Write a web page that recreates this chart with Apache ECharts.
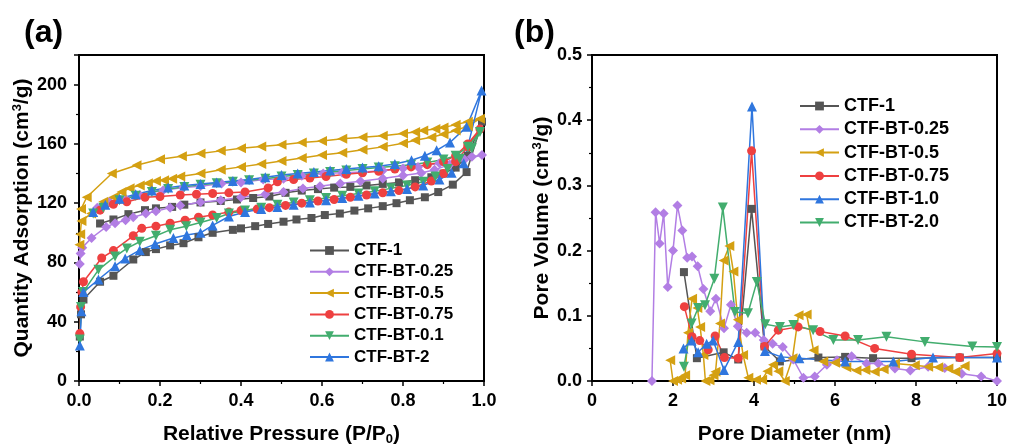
<!DOCTYPE html>
<html><head><meta charset="utf-8">
<script src="https://cdn.jsdelivr.net/npm/echarts@6/dist/echarts.min.js"></script>
<style>html,body{margin:0;padding:0;background:#fff}#c{width:1010px;height:447px}</style>
</head><body><div id="c"></div><script>
// ---------- Panel (a): N2 isotherms [P/P0, cm3/g] (adsorption then desorption) ----------
const isoCTF1 = [[0.002,30],[0.005,45],[0.011,55],[0.052,67],[0.085,71],[0.134,82],[0.165,87],[0.19,89],[0.225,91.5],[0.258,93],[0.295,97],[0.33,100],[0.38,102],[0.4,103],[0.435,104.5],[0.467,106],[0.505,107.5],[0.537,109],[0.574,110],[0.607,112],[0.644,113],[0.68,115],[0.714,116.5],[0.75,118],[0.784,120],[0.817,122],[0.854,124],[0.887,127.5],[0.923,132.5],[0.957,141],[0.995,175],
  [0.96,152],[0.93,144],[0.9,140],[0.87,137.5],[0.83,135.5],[0.79,134],[0.75,133],[0.71,132],[0.67,131],[0.63,130.5],[0.59,129.5],[0.55,128.5],[0.51,127],[0.47,124.5],[0.43,123.5],[0.39,122.5],[0.35,121.5],[0.3,120.5],[0.26,119],[0.23,117.5],[0.19,116.5],[0.163,115.3],[0.122,112.6],[0.085,109],[0.052,106.3]];
const isoBT025 = [[0.002,79],[0.004,86],[0.008,90],[0.031,96.5],[0.067,104],[0.089,106.5],[0.115,108.5],[0.134,110.5],[0.165,113],[0.19,114.6],[0.225,117],[0.25,118.5],[0.3,120.7],[0.35,122],[0.4,124],[0.46,126],[0.505,127.5],[0.553,129.9],[0.595,131.5],[0.645,133.3],[0.695,134.8],[0.75,136.6],[0.8,138.7],[0.845,140.3],[0.878,142.5],[0.915,146],[0.952,149.5],[0.995,152.5],
  [0.97,151.4],[0.93,149],[0.89,147],[0.837,144.5],[0.8,143.4],[0.75,142],[0.702,141],[0.65,140.5],[0.603,140],[0.55,138.5],[0.505,136.5],[0.455,136],[0.4,134],[0.352,133.2],[0.3,131.5],[0.258,130.5],[0.208,128.7],[0.15,125.5],[0.115,123],[0.075,120.9],[0.045,117]];
const isoBT05 = [[0.001,92],[0.003,99],[0.006,108],[0.03,113],[0.06,121],[0.085,124],[0.105,127.5],[0.125,130],[0.15,132],[0.17,133.5],[0.19,135],[0.21,135.5],[0.23,136.5],[0.25,138],[0.3,140],[0.35,142.5],[0.4,144.5],[0.45,146.5],[0.5,148.5],[0.55,150.5],[0.6,152.5],[0.65,154],[0.7,156],[0.75,158],[0.8,160.5],[0.83,162.5],[0.87,164.5],[0.9,166.5],[0.93,169],[0.96,172],[0.99,177],
  [0.96,175],[0.93,173],[0.9,171],[0.88,170],[0.85,169],[0.83,168],[0.8,167],[0.75,165.5],[0.7,164.5],[0.65,163.5],[0.6,162],[0.55,161],[0.5,159.5],[0.45,158.3],[0.4,157],[0.35,155.3],[0.3,153.5],[0.254,151.7],[0.2,149.7],[0.142,145.6],[0.081,140],[0.019,124],[0.005,116]];
const isoBT075 = [[0.002,32],[0.004,50],[0.007,60],[0.011,67],[0.056,83],[0.085,88],[0.134,98],[0.155,103],[0.19,104.5],[0.225,106.5],[0.262,108.5],[0.295,110.5],[0.33,112],[0.37,114],[0.4,115],[0.44,116],[0.47,117],[0.51,118.5],[0.55,120],[0.59,121.5],[0.63,122.5],[0.67,124],[0.71,125.5],[0.75,127],[0.79,128.5],[0.83,131],[0.87,135],[0.9,140],[0.93,148],[0.96,158],[0.99,170],
  [0.96,160],[0.93,152],[0.9,148],[0.86,146],[0.82,144.5],[0.78,143],[0.74,141.5],[0.7,140.5],[0.66,139.5],[0.61,138],[0.57,137],[0.53,136],[0.49,134.5],[0.467,130.3],[0.41,127.6],[0.37,127],[0.33,126.5],[0.29,126],[0.25,125.5],[0.2,124.5],[0.163,124],[0.118,120.9],[0.085,119.3],[0.052,115.3]];
const isoBT01 = [[0.002,28],[0.005,50],[0.01,60],[0.048,75],[0.089,84],[0.118,89.5],[0.15,94],[0.19,98],[0.225,102],[0.265,104.5],[0.3,107],[0.34,110],[0.37,113],[0.41,115],[0.45,117],[0.49,119],[0.53,120.5],[0.57,122],[0.61,123.5],[0.65,125],[0.69,126.5],[0.73,128],[0.77,130],[0.81,132],[0.85,134.5],[0.88,138],[0.91,143],[0.94,150],[0.97,157],[0.99,168],
  [0.96,158],[0.93,152],[0.9,149.5],[0.86,147.5],[0.82,146],[0.78,145],[0.74,144],[0.7,143],[0.66,142],[0.62,141],[0.58,140],[0.54,139],[0.5,138],[0.46,136.5],[0.42,135.5],[0.38,134.5],[0.34,133.5],[0.3,132.5],[0.26,131],[0.22,129.5],[0.18,127.5],[0.14,125],[0.1,122],[0.06,117],[0.035,113]];
const isoBT2 = [[0.002,24],[0.006,47],[0.011,60],[0.048,68.5],[0.089,77.5],[0.114,82.7],[0.15,88.3],[0.188,92.4],[0.233,96.5],[0.266,98.5],[0.3,100],[0.33,105],[0.37,111],[0.41,114],[0.45,116],[0.49,117.5],[0.53,119],[0.57,120.5],[0.61,122],[0.65,123.5],[0.69,125],[0.73,126.5],[0.77,128],[0.81,129.5],[0.85,132],[0.89,136],[0.92,140.5],[0.95,147],[0.994,196],
  [0.957,171.5],[0.916,161],[0.883,155.7],[0.854,152],[0.821,149],[0.78,146.5],[0.74,145],[0.7,144],[0.66,143],[0.62,142],[0.58,141],[0.54,140],[0.5,139],[0.46,137.5],[0.42,136],[0.38,135],[0.34,134],[0.3,133],[0.26,132],[0.22,130.5],[0.18,128.5],[0.14,126],[0.1,123],[0.065,119],[0.035,114]];

// ---------- Panel (b): pore size distribution [nm, cm3/g] ----------
const psdCTF1 = [[2.27,0.167],[2.59,0.035],[3.25,0.044],[3.61,0.033],[3.94,0.264],[4.26,0.053],[4.64,0.03],[5.59,0.036],[6.25,0.037],[6.94,0.035],[7.89,0.035],[9.08,0.036],[10,0.036]];
const psdBT025 = [[1.48,0],[1.57,0.259],[1.67,0.211],[1.77,0.257],[1.87,0.144],[2.0,0.2],[2.11,0.269],[2.23,0.231],[2.35,0.189],[2.47,0.191],[2.61,0.176],[2.75,0.141],[2.92,0.107],[3.06,0.126],[3.26,0.081],[3.43,0.117],[3.6,0.084],[3.82,0.074],[4.03,0.074],[4.24,0.063],[4.46,0.057],[4.71,0.052],[4.97,0.033],[5.22,0.005],[5.5,0.007],[5.8,0.025],[6.05,0.032],[6.41,0.038],[6.78,0.027],[7.07,0.027],[7.48,0.019],[7.86,0.016],[8.3,0.022],[8.71,0.02],[9.13,0.011],[9.61,0.007],[10,0.0]];
const psdBT05 = [[1.93,0.032],[2.0,0.0],[2.1,0.002],[2.2,0.004],[2.3,0.009],[2.37,0.074],[2.47,0.126],[2.6,0.112],[2.67,0.083],[2.75,0.04],[2.8,0.0],[2.9,0.001],[3.0,0.009],[3.05,0.014],[3.16,0.088],[3.25,0.185],[3.39,0.207],[3.49,0.168],[3.6,0.094],[3.73,0.04],[3.86,0.005],[4.05,0.002],[4.2,0.002],[4.33,0.015],[4.47,0.025],[4.6,0.015],[4.76,0.0],[4.95,0.035],[5.1,0.101],[5.3,0.102],[5.47,0.047],[5.71,0.03],[6.0,0.028],[6.28,0.021],[6.53,0.016],[6.75,0.017],[6.98,0.014],[7.2,0.018],[7.48,0.027],[7.97,0.024],[8.3,0.022],[8.55,0.021],[8.8,0.019],[8.97,0.014],[9.2,0.023]];
const psdBT075 = [[2.28,0.114],[2.47,0.068],[2.66,0.062],[2.87,0.048],[3.04,0.069],[3.27,0.036],[3.61,0.035],[3.94,0.353],[4.26,0.053],[4.6,0.078],[5.09,0.083],[5.63,0.076],[6.25,0.069],[6.98,0.05],[7.89,0.041],[9.08,0.036],[10,0.042]];
const psdBT10 = [[2.26,0.05],[2.46,0.062],[2.62,0.044],[2.83,0.057],[2.99,0.062],[3.26,0.017],[3.61,0.06],[3.95,0.421],[4.27,0.046],[4.67,0.037],[5.12,0.035],[6.25,0.03],[7.44,0.03],[8.42,0.036],[10,0.036]];
const psdBT20 = [[2.27,0.022],[2.46,0.088],[2.62,0.112],[2.79,0.116],[3.02,0.157],[3.23,0.266],[3.53,0.106],[3.85,0.104],[4.07,0.152],[4.28,0.087],[4.64,0.083],[4.97,0.086],[5.46,0.078],[5.96,0.063],[6.57,0.063],[7.27,0.068],[8.22,0.06],[9.39,0.053],[10,0.052]];

const namesA = ['CTF-1','CTF-BT-0.25','CTF-BT-0.5','CTF-BT-0.75','CTF-BT-0.1','CTF-BT-2'];
const namesB = ['CTF-1','CTF-BT-0.25','CTF-BT-0.5','CTF-BT-0.75','CTF-BT-1.0','CTF-BT-2.0'];
const xTicksA = [0,0.2,0.4,0.6,0.8,1.0];
const yTicksA = [0,40,80,120,160,200];

const FF = '"Liberation Sans", Arial, sans-serif';
const C = {gray:'#555555', purple:'#b27ee4', gold:'#d4a012', red:'#ee4040', green:'#42ad6e', blue:'#2f76de'};

function mk(name, data, idx, color, symbol, rot, size){
  return {type:'line', name, data, xAxisIndex:idx, yAxisIndex:idx, symbol, symbolRotate:rot, symbolSize:size,
    clip:false, animation:false, itemStyle:{color}, lineStyle:{color, width:1.5}, emphasis:{disabled:true}};
}

function axisCommon(){
  return {
    axisLine:{show:true, onZero:false, lineStyle:{color:'#000', width:2}},
    axisTick:{show:true, inside:false, length:5, lineStyle:{color:'#000', width:1.5}},
    minorTick:{show:true, splitNumber:2, length:3, lineStyle:{color:'#000', width:1.2}},
    splitLine:{show:false},
    nameLocation:'middle'
  };
}
const lbl = {color:'#000', fontSize:18, fontWeight:'bold', fontFamily:FF};
const nameRich = {
  t:{fontSize:21, fontWeight:'bold', fontFamily:FF, color:'#000', lineHeight:24},
  s:{fontSize:13, fontWeight:'bold', fontFamily:FF, color:'#000', lineHeight:13, verticalAlign:'top'},
  b:{fontSize:13, fontWeight:'bold', fontFamily:FF, color:'#000', lineHeight:13, verticalAlign:'bottom'}
};

const option = {
  backgroundColor:'#fff',
  animation:false,
  title:[
    {text:'(a)', left:24, top:17, padding:0, textStyle:{fontSize:32, fontWeight:'bold', fontFamily:FF, color:'#000'}},
    {text:'(b)', left:514, top:17, padding:0, textStyle:{fontSize:32, fontWeight:'bold', fontFamily:FF, color:'#000'}}
  ],
  grid:[
    {left:79, width:405, top:55, height:326, show:true, borderColor:'#000', borderWidth:2, backgroundColor:'transparent', containLabel:false, outerBoundsMode:'none'},
    {left:592, width:405, top:55, height:326, show:true, borderColor:'#000', borderWidth:2, backgroundColor:'transparent', containLabel:false, outerBoundsMode:'none'}
  ],
  xAxis:[
    Object.assign(axisCommon(), {type:'value', gridIndex:0, min:xTicksA[0], max:xTicksA[xTicksA.length-1], interval:0.2,
      axisLabel:Object.assign({margin:11, formatter:v=>v.toFixed(1)}, lbl),
      name:'{t|Relative Pressure (P/P}{b|0}{t|)}', nameGap:41, nameTextStyle:{rich:nameRich}}),
    Object.assign(axisCommon(), {type:'value', gridIndex:1, min:0, max:10, interval:2,
      axisLabel:Object.assign({margin:11}, lbl),
      name:'{t|Pore Diameter (nm)}', nameGap:41, nameTextStyle:{rich:nameRich}})
  ],
  yAxis:[
    Object.assign(axisCommon(), {type:'value', gridIndex:0, min:yTicksA[0], max:220, interval:40,
      axisLabel:Object.assign({margin:12, showMaxLabel:false, formatter:v=>(v>200?'':String(v))}, lbl),
      name:'{t|Quantity Adsorption (cm}{s|3}{t|/g)}', nameGap:41, nameTextStyle:{rich:nameRich}}),
    Object.assign(axisCommon(), {type:'value', gridIndex:1, min:0, max:0.5, interval:0.1,
      axisLabel:Object.assign({margin:10, formatter:v=>v.toFixed(1)}, lbl),
      name:'{t|Pore Volume (cm}{s|3}{t|/g)}', nameGap:35, nameTextStyle:{rich:nameRich}})
  ],
  legend:[
    {data:namesA, orient:'vertical', left:304, top:237, itemWidth:39, itemHeight:11, itemGap:4.3, selectedMode:false,
     textStyle:{fontSize:17, fontWeight:'bold', fontFamily:FF, color:'#000', lineHeight:17}},
    {data:namesB, orient:'vertical', left:794, top:92, itemWidth:39, itemHeight:11, itemGap:5.3, selectedMode:false,
     textStyle:{fontSize:18, fontWeight:'bold', fontFamily:FF, color:'#000', lineHeight:18}}
  ],
  series:[
    mk(namesA[0], isoCTF1, 0, C.gray, 'rect', 0, 8),
    mk(namesA[1], isoBT025, 0, C.purple, 'diamond', 0, 10),
    mk(namesA[2], isoBT05, 0, C.gold, 'triangle', 90, 10),
    mk(namesA[3], isoBT075, 0, C.red, 'circle', 0, 9),
    mk(namesA[4], isoBT01, 0, C.green, 'triangle', 180, 10),
    mk(namesA[5], isoBT2, 0, C.blue, 'triangle', 0, 10),
    mk(namesB[0], psdCTF1, 1, C.gray, 'rect', 0, 8),
    mk(namesB[1], psdBT025, 1, C.purple, 'diamond', 0, 10),
    mk(namesB[2], psdBT05, 1, C.gold, 'triangle', 90, 10),
    mk(namesB[3], psdBT075, 1, C.red, 'circle', 0, 9),
    mk(namesB[4], psdBT10, 1, C.blue, 'triangle', 0, 10),
    mk(namesB[5], psdBT20, 1, C.green, 'triangle', 180, 10)
  ]
};
const chart = echarts.init(document.getElementById('c'), null, {renderer:'canvas'});
chart.setOption(option);
</script></body></html>
